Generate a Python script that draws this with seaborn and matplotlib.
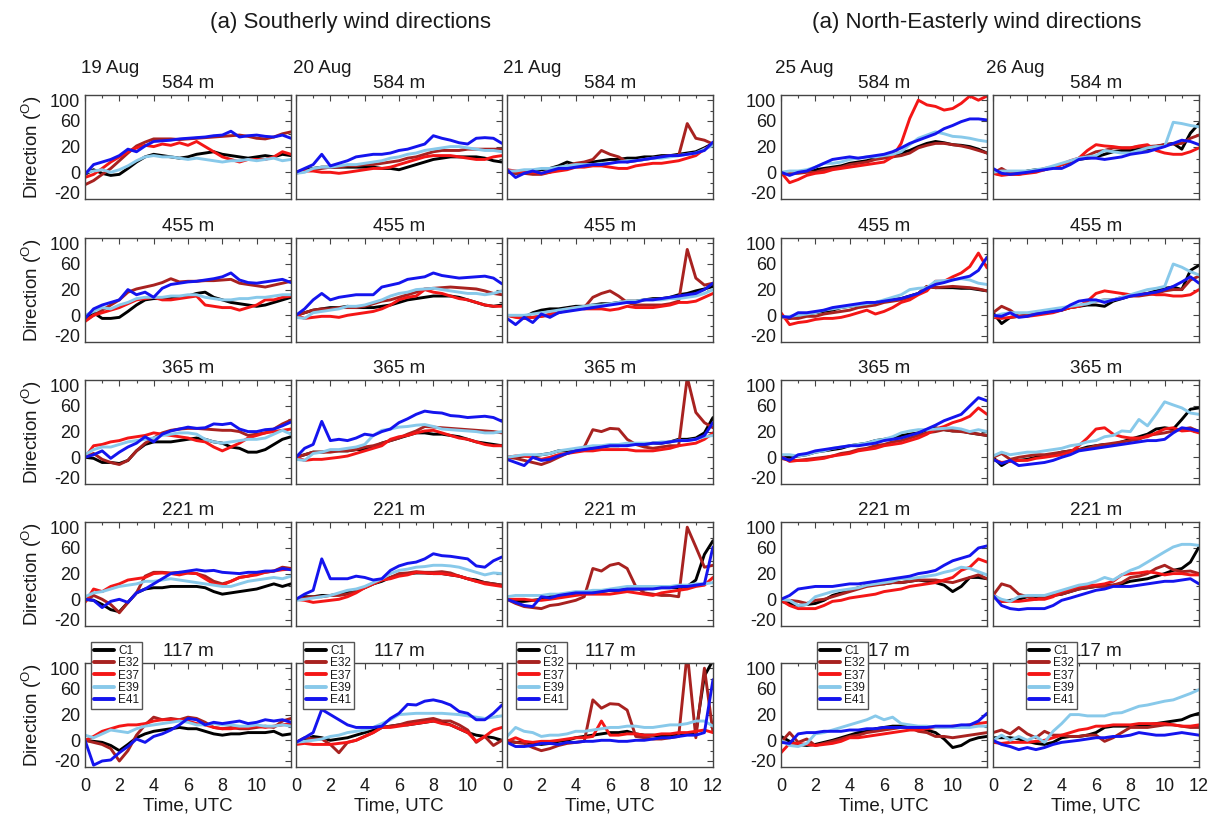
import numpy as np
import pandas as pd
import matplotlib
matplotlib.use("Agg")
import matplotlib.pyplot as plt
from matplotlib.lines import Line2D
from matplotlib.ticker import MultipleLocator
import seaborn as sns

# ---------------- data ----------------
HOURS = [0, 0.5, 1, 1.5, 2, 2.5, 3, 3.5, 4, 4.5, 5, 5.5, 6, 6.5, 7, 7.5, 8, 8.5,
         9, 9.5, 10, 10.5, 11, 11.5, 12]
SERIES = ["C1", "E32", "E37", "E39", "E41"]
COLORS = ["#000000", "#A82220", "#F41616", "#88C9EA", "#1414EE"]
DAYS = ["19 Aug", "20 Aug", "21 Aug", "25 Aug", "26 Aug"]
HEIGHTS = ["584 m", "455 m", "365 m", "221 m", "117 m"]
YTICKS = [-20, 0, 20, 60, 100]
YTICK_LABELS = ["-20", "0", "20", "60", "100"]
XTICKS = [0, 2, 4, 6, 8, 10, 12]

# 19 Aug
A19_584 = dict(
    C1=[-2, 2, -1, -3, -2, 3, 8, 12, 14, 13, 12, 11, 12, 14, 15, 16, 14, 13, 12, 11, 12, 13, 12, 14, 13],
    E32=[-12, -8, -2, 3, 9, 15, 21, 27, 32, 32, 32, 31, 32, 33, 34, 35, 36, 37, 38, 36, 33, 32, 35, 40, 43],
    E37=[-5, -2, 3, 8, 12, 16, 19, 22, 20, 24, 22, 26, 22, 28, 20, 16, 12, 10, 8, 10, 10, 10, 12, 16, 14],
    E39=[0, 1, 2, 0, 2, 5, 9, 12, 13, 12, 12, 11, 10, 11, 10, 9, 8, 9, 9, 10, 9, 10, 11, 9, 10],
    E41=[-2, 6, 8, 10, 13, 18, 16, 21, 28, 29, 30, 32, 33, 34, 35, 37, 38, 44, 35, 37, 38, 36, 35, 38, 33])
A19_455 = dict(
    C1=[-4, 2, -3, -3, -2, 3, 8, 12, 13, 13, 13, 14, 15, 17, 18, 14, 12, 10, 9, 8, 7, 8, 10, 12, 14],
    E32=[-5, 0, 4, 8, 12, 18, 21, 24, 27, 31, 37, 32, 33, 33, 34, 34, 35, 36, 30, 28, 26, 24, 27, 30, 33],
    E37=[-6, 0, 2, 4, 6, 9, 12, 13, 14, 12, 12, 13, 14, 15, 8, 7, 6, 6, 4, 6, 8, 12, 12, 14, 15],
    E39=[0, 3, 6, 5, 8, 10, 13, 14, 14, 14, 15, 15, 16, 16, 14, 13, 12, 12, 13, 13, 14, 14, 15, 16, 16],
    E41=[-3, 5, 8, 10, 12, 20, 16, 18, 14, 22, 28, 30, 32, 33, 35, 37, 40, 46, 35, 31, 30, 32, 34, 36, 31])
A19_365 = dict(
    C1=[0, -1, -5, -5, -6, -3, 5, 10, 12, 12, 12, 13, 14, 15, 14, 12, 11, 8, 7, 4, 4, 6, 10, 14, 16],
    E32=[0, 3, -2, -5, -7, -3, 5, 11, 15, 19, 22, 24, 25, 25, 24, 23, 22, 22, 20, 17, 18, 19, 24, 32, 38],
    E37=[0, 9, 10, 12, 13, 15, 16, 17, 19, 18, 17, 16, 15, 13, 12, 8, 5, 8, 11, 15, 17, 19, 20, 22, 24],
    E39=[2, 6, 8, 8, 10, 12, 13, 14, 15, 17, 18, 19, 19, 18, 14, 12, 11, 12, 13, 14, 14, 15, 18, 22, 18],
    E41=[0, 2, 5, -1, 4, 8, 11, 16, 12, 18, 21, 24, 27, 25, 26, 32, 31, 33, 24, 20, 20, 23, 24, 29, 35])
A19_221 = dict(
    C1=[0, -1, -5, -10, -12, -3, 5, 8, 9, 9, 10, 10, 10, 10, 9, 6, 4, 5, 6, 7, 8, 10, 12, 10, 12],
    E32=[-2, 3, 0, -5, -13, -3, 5, 18, 22, 22, 21, 22, 21, 20, 18, 14, 12, 14, 17, 18, 20, 22, 24, 30, 28],
    E37=[-3, 8, 6, 10, 12, 15, 16, 17, 20, 21, 20, 19, 21, 20, 16, 12, 11, 14, 17, 18, 19, 22, 24, 26, 27],
    E39=[2, 5, 6, 8, 10, 11, 12, 14, 14, 15, 16, 15, 14, 13, 12, 11, 10, 10, 12, 14, 15, 16, 17, 16, 18],
    E41=[0, -1, -8, -2, 0, -3, 5, 8, 12, 16, 20, 22, 24, 26, 24, 25, 22, 21, 20, 22, 22, 24, 24, 28, 26])
A19_117 = dict(
    C1=[0, -1, -2, -5, -10, -4, 2, 5, 7, 8, 9, 10, 9, 9, 7, 5, 4, 5, 5, 6, 6, 6, 7, 4, 5],
    E32=[0, -2, -4, -8, -20, -10, 4, 12, 18, 16, 17, 16, 18, 17, 14, 10, 9, 10, 9, 9, 10, 11, 10, 15, 17],
    E37=[0, 3, 7, 9, 11, 12, 12, 13, 15, 16, 16, 16, 15, 13, 12, 10, 9, 9, 10, 10, 11, 10, 11, 12, 13],
    E39=[4, 2, 5, 8, 7, 6, 9, 11, 12, 13, 14, 15, 14, 12, 12, 13, 12, 12, 11, 11, 12, 11, 11, 12, 11],
    E41=[0, -24, -20, -19, -12, -6, 1, -2, 3, 5, 8, 12, 17, 16, 12, 14, 13, 14, 15, 13, 14, 16, 15, 16, 14])

# 20 Aug
A20_584 = dict(
    C1=[0, 2, 3, 4, 4, 4, 4, 4, 4, 4, 3, 3, 2, 4, 6, 8, 10, 11, 12, 12, 12, 12, 11, 9, 8],
    E32=[0, 1, 2, 3, 4, 4, 5, 5, 6, 6, 7, 8, 9, 11, 12, 14, 16, 17, 17, 17, 18, 18, 18, 18, 18],
    E37=[-1, 1, 1, 0, 0, -1, 0, 1, 2, 3, 3, 4, 6, 8, 10, 12, 13, 13, 13, 12, 11, 10, 10, 12, 13],
    E39=[-1, 0, 3, 4, 4, 5, 6, 6, 7, 8, 9, 11, 12, 14, 15, 17, 18, 19, 20, 20, 19, 18, 17, 17, 16],
    E41=[0, 3, 6, 14, 5, 7, 9, 12, 13, 14, 14, 15, 17, 18, 20, 24, 37, 33, 30, 26, 24, 33, 34, 33, 25])
A20_455 = dict(
    C1=[0, 2, 4, 5, 6, 6, 7, 6, 6, 6, 7, 8, 10, 12, 13, 14, 15, 15, 15, 14, 12, 10, 8, 7, 8],
    E32=[0, 2, 4, 5, 5, 6, 6, 6, 7, 9, 11, 12, 14, 16, 18, 21, 22, 23, 24, 23, 22, 21, 19, 17, 16],
    E37=[0, -3, -2, -1, -1, -2, 0, 1, 2, 3, 5, 8, 12, 14, 15, 20, 18, 17, 15, 13, 12, 10, 8, 7, 7],
    E39=[-2, -3, 2, 3, 4, 5, 7, 7, 8, 10, 12, 15, 17, 18, 20, 21, 22, 20, 19, 18, 17, 17, 16, 17, 19],
    E41=[0, 5, 12, 17, 12, 14, 15, 16, 16, 16, 24, 27, 30, 36, 38, 40, 46, 42, 40, 38, 39, 40, 41, 38, 29])
A20_365 = dict(
    C1=[0, 2, 4, 4, 5, 5, 5, 6, 6, 8, 11, 13, 15, 17, 19, 19, 18, 18, 17, 16, 14, 12, 11, 10, 9],
    E32=[0, 2, 4, 4, 4, 5, 5, 6, 8, 9, 11, 13, 15, 18, 21, 28, 27, 26, 25, 24, 23, 22, 21, 20, 19],
    E37=[0, -3, -2, -2, -1, 0, 1, 3, 5, 7, 9, 14, 16, 17, 19, 21, 22, 19, 17, 15, 14, 12, 10, 9, 9],
    E39=[-2, -3, 3, 4, 6, 6, 7, 8, 10, 17, 22, 24, 27, 28, 30, 31, 28, 24, 23, 22, 21, 20, 19, 19, 20],
    E41=[0, 7, 10, 36, 13, 14, 13, 15, 18, 17, 20, 24, 34, 40, 47, 52, 50, 49, 45, 44, 42, 43, 44, 42, 36])
A20_221 = dict(
    C1=[0, 2, 2, 3, 3, 4, 5, 7, 9, 12, 14, 17, 19, 20, 21, 21, 20, 20, 19, 18, 16, 15, 13, 12, 11],
    E32=[0, 1, 2, 2, 3, 3, 4, 6, 9, 12, 15, 17, 20, 21, 23, 22, 22, 23, 21, 18, 16, 14, 13, 12, 11],
    E37=[0, -1, -3, -2, -1, 0, 2, 5, 9, 12, 15, 16, 18, 19, 22, 21, 20, 20, 19, 18, 16, 14, 12, 11, 10],
    E39=[-1, 0, 1, 2, 3, 5, 7, 8, 10, 13, 16, 20, 25, 27, 30, 31, 33, 33, 32, 30, 26, 22, 19, 21, 20],
    E41=[0, 4, 7, 43, 16, 16, 16, 18, 17, 15, 16, 25, 32, 36, 38, 43, 51, 48, 47, 45, 43, 32, 30, 40, 46])
A20_117 = dict(
    C1=[-2, 0, 3, 2, 0, 1, 2, 4, 6, 8, 10, 11, 12, 12, 13, 14, 15, 14, 12, 9, 6, 4, 3, 2, 0],
    E32=[-2, 2, 1, 1, -4, -12, -2, 0, 3, 6, 10, 11, 12, 14, 15, 16, 17, 15, 15, 12, 8, -2, 3, -5, 0],
    E37=[-4, -3, -4, -4, -4, -3, -2, 0, 3, 6, 10, 10, 11, 12, 13, 14, 15, 13, 12, 9, 6, -1, 3, 8, 10],
    E39=[-2, -1, 0, 1, 3, 4, 6, 7, 8, 10, 13, 16, 20, 21, 22, 22, 22, 22, 21, 20, 19, 18, 17, 18, 19],
    E41=[-2, 2, 6, 28, 20, 16, 12, 10, 10, 10, 11, 17, 22, 36, 35, 41, 43, 40, 35, 25, 22, 16, 16, 22, 35])

# 21 Aug
A21_584 = dict(
    C1=[2, -1, 0, 1, 2, 3, 5, 8, 6, 7, 8, 9, 10, 10, 11, 11, 12, 12, 13, 13, 14, 15, 16, 19, 25],
    E32=[0, -1, -1, -2, -2, 0, 3, 5, 7, 8, 10, 17, 14, 12, 8, 9, 10, 11, 12, 13, 13, 56, 33, 30, 24],
    E37=[2, 1, 0, 0, -1, 0, 1, 2, 4, 4, 5, 5, 4, 3, 3, 5, 6, 7, 7, 8, 9, 11, 13, 18, 24],
    E39=[1, 1, 2, 2, 3, 3, 4, 5, 6, 6, 6, 7, 7, 8, 9, 9, 10, 11, 11, 12, 13, 14, 15, 18, 22],
    E41=[2, -5, -1, 1, -1, 1, 3, 3, 4, 5, 6, 6, 7, 8, 8, 9, 10, 11, 12, 13, 13, 14, 15, 17, 27])
A21_455 = dict(
    C1=[0, -1, -2, 2, 4, 5, 5, 6, 7, 7, 8, 9, 9, 10, 11, 11, 12, 13, 13, 14, 16, 17, 19, 21, 25],
    E32=[0, -1, -3, -2, -1, 0, 2, 4, 6, 6, 14, 17, 19, 15, 10, 8, 8, 8, 8, 9, 11, 88, 38, 27, 30],
    E37=[0, -2, -3, -2, -1, 1, 3, 5, 6, 5, 5, 5, 4, 5, 7, 6, 6, 6, 7, 8, 10, 10, 11, 14, 17],
    E39=[0, 0, 0, 1, 2, 3, 4, 5, 6, 7, 8, 8, 9, 10, 11, 11, 12, 12, 12, 13, 13, 14, 15, 17, 20],
    E41=[-3, -9, -2, -7, 1, -2, 2, 3, 4, 5, 6, 7, 8, 9, 10, 10, 12, 12, 13, 14, 15, 16, 17, 20, 30])
A21_365 = dict(
    C1=[0, 0, 1, 1, 2, 3, 5, 5, 6, 7, 7, 8, 9, 9, 10, 10, 10, 11, 11, 12, 14, 14, 15, 19, 42],
    E32=[0, -1, -3, -5, -7, -4, 0, 3, 5, 8, 23, 20, 25, 24, 14, 10, 8, 7, 8, 9, 9, 115, 50, 34, 26],
    E37=[0, 1, 1, 0, -2, 0, 2, 3, 4, 5, 5, 6, 6, 6, 6, 5, 5, 5, 6, 7, 9, 10, 11, 14, 19],
    E39=[0, 1, 2, 2, 2, 3, 5, 6, 7, 8, 9, 9, 10, 10, 11, 11, 11, 11, 12, 12, 13, 13, 14, 16, 17],
    E41=[-2, -5, -8, 0, -3, -2, 1, 3, 5, 6, 7, 8, 9, 9, 9, 10, 10, 11, 11, 12, 13, 13, 14, 17, 34])
A21_221 = dict(
    C1=[0, -2, -2, -1, 0, 2, 3, 4, 4, 5, 6, 6, 7, 7, 8, 8, 8, 9, 9, 9, 9, 10, 15, 50, 74],
    E32=[0, -4, -7, -8, -9, -6, -5, -3, -1, 2, 28, 24, 33, 36, 28, 10, 5, 4, 3, 3, 2, 100, 62, 30, 33],
    E37=[0, 0, 0, -1, -1, 0, 1, 2, 3, 4, 4, 4, 4, 5, 6, 5, 4, 3, 5, 6, 7, 8, 10, 11, 17],
    E39=[2, 3, 3, 3, 3, 4, 4, 5, 6, 6, 7, 7, 8, 9, 10, 10, 10, 10, 10, 10, 11, 11, 12, 12, 13],
    E41=[0, -3, -6, -7, 2, 1, 3, 4, 5, 5, 5, 6, 7, 7, 8, 8, 8, 8, 9, 9, 10, 10, 11, 12, 62])
A21_117 = dict(
    C1=[-1, -2, -2, -3, -4, -3, -1, 0, 2, 3, 4, 5, 6, 6, 7, 5, 4, 4, 3, 4, 4, 5, 6, 85, 115],
    E32=[0, -2, -3, -7, -10, -8, -5, -3, -2, -1, 43, 30, 37, 36, 27, 3, 2, 1, 1, 2, 3, 130, 2, 100, 6],
    E37=[-1, 2, -1, -2, -1, -1, 0, 1, 2, 2, 3, 15, 4, 4, 5, 5, 4, 4, 5, 5, 6, 6, 7, 8, 6],
    E39=[3, 10, 7, 6, 3, 4, 4, 5, 7, 7, 8, 9, 10, 10, 11, 11, 10, 10, 11, 12, 12, 13, 15, 15, 11],
    E41=[-2, -6, -6, -5, -3, -3, -4, -2, -2, -1, -1, 0, 0, -1, -1, 0, 0, 1, 2, 2, 3, 4, 4, 6, 78])

# 25 Aug
A25_584 = dict(
    C1=[-1, -1, 0, 1, 2, 3, 4, 5, 7, 8, 9, 11, 12, 13, 15, 17, 20, 25, 28, 26, 23, 22, 20, 18, 15],
    E32=[-2, -1, -1, 0, 0, 2, 3, 4, 6, 7, 8, 10, 11, 12, 13, 15, 19, 22, 25, 25, 23, 21, 19, 17, 15],
    E37=[0, -10, -7, -3, -1, 0, 2, 3, 4, 5, 6, 7, 8, 12, 25, 65, 100, 91, 88, 81, 84, 94, 108, 100, 108],
    E39=[0, 1, 1, 2, 4, 7, 7, 8, 10, 11, 12, 12, 13, 14, 16, 23, 33, 38, 43, 40, 36, 35, 33, 30, 28],
    E41=[0, -3, 0, 1, 4, 7, 10, 11, 12, 11, 12, 13, 14, 16, 19, 25, 30, 35, 40, 48, 53, 59, 64, 64, 62])
A25_455 = dict(
    C1=[-1, -3, 0, 1, 2, 3, 4, 6, 7, 8, 8, 10, 11, 12, 13, 15, 17, 25, 23, 23, 23, 22, 22, 20, 19],
    E32=[-2, -3, -3, -1, -1, 1, 2, 3, 4, 6, 7, 8, 10, 11, 12, 14, 17, 25, 23, 24, 25, 24, 23, 21, 19],
    E37=[2, -9, -7, -6, -4, -3, -3, -2, 0, 2, 4, 1, 3, 6, 10, 12, 16, 19, 33, 33, 40, 46, 56, 81, 54],
    E39=[-2, -1, 0, 1, 2, 4, 5, 6, 7, 8, 9, 10, 12, 14, 16, 20, 22, 23, 33, 34, 35, 37, 35, 30, 28],
    E41=[-1, -2, 2, 2, 3, 4, 6, 7, 8, 9, 10, 10, 11, 12, 13, 15, 17, 22, 28, 31, 35, 38, 41, 50, 73])
A25_365 = dict(
    C1=[0, 0, 1, 2, 4, 5, 6, 7, 9, 10, 11, 13, 14, 15, 17, 18, 19, 23, 26, 23, 21, 21, 19, 18, 17],
    E32=[-1, -3, -3, -2, -1, 0, 1, 3, 4, 6, 7, 9, 10, 12, 13, 15, 17, 19, 20, 23, 21, 20, 19, 18, 17],
    E37=[1, -4, -3, -3, -2, -1, 1, 2, 3, 5, 6, 7, 9, 10, 11, 13, 15, 18, 24, 28, 34, 38, 44, 57, 47],
    E39=[2, 2, 1, 2, 4, 5, 7, 8, 9, 10, 11, 13, 14, 16, 19, 21, 23, 23, 24, 25, 26, 24, 20, 23, 20],
    E41=[0, -3, 2, 3, 5, 6, 7, 8, 9, 9, 10, 11, 13, 14, 15, 17, 19, 24, 30, 37, 42, 47, 60, 76, 70])
A25_221 = dict(
    C1=[-2, -4, -6, -5, -4, -1, 3, 5, 7, 9, 11, 12, 12, 13, 13, 14, 15, 14, 13, 11, 6, 10, 17, 17, 16],
    E32=[-1, -1, -2, -4, -1, 0, 2, 4, 6, 8, 10, 11, 12, 13, 13, 14, 15, 15, 15, 14, 13, 15, 17, 19, 16],
    E37=[-1, -6, -9, -9, -9, -6, -2, -1, 1, 2, 3, 4, 6, 7, 8, 10, 11, 12, 13, 15, 17, 25, 30, 43, 38],
    E39=[0, -1, -6, -5, 2, 4, 6, 7, 8, 9, 11, 12, 13, 14, 16, 16, 17, 18, 19, 22, 25, 30, 28, 23, 19],
    E41=[0, 3, 8, 9, 10, 10, 10, 11, 12, 12, 13, 14, 15, 16, 17, 18, 20, 22, 25, 33, 40, 44, 48, 60, 64])
A25_117 = dict(
    C1=[3, -1, -4, -5, -4, -2, 0, 2, 4, 6, 7, 9, 10, 11, 11, 11, 10, 8, 6, 1, -7, -5, 0, 2, 3],
    E32=[-2, 6, -2, 1, -5, -3, -1, 1, 3, 4, 6, 7, 8, 9, 10, 10, 7, 6, 3, 3, 2, 3, 4, 5, 6],
    E37=[-12, -3, -3, -4, -5, -4, -3, -1, 2, 2, 3, 4, 5, 6, 7, 8, 8, 9, 10, 10, 11, 11, 12, 13, 14],
    E39=[0, -5, -6, -3, 5, 6, 8, 10, 12, 14, 16, 19, 16, 18, 13, 12, 11, 11, 10, 10, 10, 10, 10, 11, 11],
    E41=[-2, -3, 5, 6, 6, 7, 7, 7, 8, 8, 9, 9, 10, 10, 10, 10, 10, 10, 11, 11, 11, 12, 12, 15, 22])

# 26 Aug
A26_584 = dict(
    C1=[-1, -2, -2, -1, 1, 2, 2, 4, 6, 8, 10, 11, 12, 14, 16, 17, 17, 18, 18, 20, 23, 25, 18, 41, 56],
    E32=[-1, 3, -1, -2, 0, 1, 3, 4, 6, 8, 11, 13, 16, 17, 19, 19, 19, 20, 20, 21, 23, 24, 25, 33, 38],
    E37=[-1, -3, -2, -2, -1, 0, 2, 4, 6, 9, 11, 17, 23, 21, 20, 19, 19, 21, 23, 17, 15, 14, 14, 16, 19],
    E39=[0, 1, 1, 1, 1, 2, 3, 5, 7, 9, 11, 12, 13, 17, 16, 15, 15, 17, 19, 20, 20, 58, 56, 53, 51],
    E41=[3, -1, -2, -1, 0, 1, 2, 3, 3, 6, 10, 11, 11, 10, 11, 12, 14, 15, 16, 18, 20, 25, 30, 28, 23])
A26_455 = dict(
    C1=[2, -8, -2, -1, 0, 1, 2, 3, 4, 6, 7, 8, 8, 7, 11, 13, 15, 16, 17, 19, 22, 24, 20, 50, 58],
    E32=[2, 7, 4, -1, 0, 1, 2, 3, 5, 6, 7, 9, 11, 12, 12, 14, 15, 15, 16, 17, 19, 20, 20, 35, 41],
    E37=[-2, -3, -2, -1, -1, 0, 1, 2, 4, 6, 7, 11, 17, 19, 18, 17, 16, 16, 17, 16, 16, 15, 15, 16, 20],
    E39=[-1, 1, 2, 2, 2, 3, 4, 5, 6, 7, 8, 9, 11, 12, 12, 14, 16, 18, 20, 22, 25, 60, 55, 48, 43],
    E41=[0, -1, 2, -2, -1, 1, 2, 3, 4, 8, 11, 12, 12, 10, 12, 13, 15, 16, 17, 18, 20, 25, 32, 40, 30])
A26_365 = dict(
    C1=[0, -8, -3, -3, -2, 0, 1, 2, 4, 5, 6, 8, 9, 10, 10, 12, 14, 16, 18, 24, 26, 24, 39, 55, 57],
    E32=[0, 3, -2, 0, 1, 2, 2, 3, 4, 5, 6, 7, 9, 10, 11, 12, 13, 14, 17, 18, 19, 21, 24, 26, 20],
    E37=[-2, -5, -4, -3, -3, -1, 0, 1, 2, 4, 9, 15, 24, 26, 18, 16, 15, 15, 16, 19, 24, 26, 21, 22, 19],
    E39=[1, 4, 2, 3, 4, 4, 5, 6, 7, 9, 10, 12, 13, 16, 17, 21, 20, 39, 29, 47, 68, 62, 57, 49, 47],
    E41=[-2, -6, -3, -8, -7, -6, -5, -3, 0, 2, 5, 6, 7, 8, 9, 10, 11, 12, 13, 13, 14, 19, 26, 24, 21])
A26_221 = dict(
    C1=[2, -2, -1, 0, 2, 1, 2, 3, 4, 6, 8, 9, 10, 11, 11, 12, 14, 15, 16, 18, 20, 25, 28, 38, 62],
    E32=[3, 12, 10, 4, 2, 0, 2, 3, 4, 6, 8, 9, 10, 10, 11, 13, 17, 18, 20, 28, 33, 26, 23, 24, 20],
    E37=[4, -2, -2, -2, -1, 0, 0, 2, 6, 8, 10, 11, 11, 12, 14, 19, 20, 21, 23, 21, 19, 20, 20, 19, 19],
    E39=[3, 0, -2, 2, 3, 3, 3, 5, 7, 9, 11, 12, 14, 17, 15, 19, 25, 30, 38, 46, 54, 62, 67, 67, 65],
    E41=[3, -6, -9, -10, -9, -9, -9, -6, -1, 1, 3, 5, 7, 8, 10, 10, 10, 11, 12, 13, 14, 14, 15, 16, 12])
A26_117 = dict(
    C1=[2, 2, 2, 1, -1, -3, -4, -2, 2, 3, 3, 4, 6, 10, 11, 11, 11, 12, 12, 13, 14, 15, 16, 19, 22],
    E32=[6, 8, 5, 10, 5, 2, 7, 4, 4, 3, 3, 4, 4, -1, 2, 6, 10, 10, 10, 11, 12, 12, 11, 10, 10],
    E37=[-2, -3, -2, -2, -2, -1, 0, 2, 4, 6, 8, 9, 11, 11, 12, 12, 12, 13, 13, 13, 13, 12, 11, 11, 12],
    E39=[0, 4, 0, 3, 0, 3, -2, 7, 13, 20, 20, 19, 19, 19, 22, 23, 28, 33, 35, 38, 41, 43, 48, 53, 59],
    E41=[0, -4, -6, -9, -7, -9, -7, -4, -2, -1, 0, 1, 2, 2, 3, 3, 4, 6, 5, 4, 4, 5, 6, 5, 4])

PANELS = [
    [A19_584, A19_455, A19_365, A19_221, A19_117],
    [A20_584, A20_455, A20_365, A20_221, A20_117],
    [A21_584, A21_455, A21_365, A21_221, A21_117],
    [A25_584, A25_455, A25_365, A25_221, A25_117],
    [A26_584, A26_455, A26_365, A26_221, A26_117],
]

# ---------------- style ----------------
sns.set_style("white")
TXT = "#1a1a1a"
plt.rcParams["font.family"] = ["Liberation Sans", "DejaVu Sans"]
plt.rcParams["mathtext.fontset"] = "custom"
plt.rcParams["mathtext.rm"] = "Liberation Sans"
plt.rcParams["mathtext.it"] = "Liberation Sans:italic"
plt.rcParams["mathtext.bf"] = "Liberation Sans:bold"
plt.rcParams["text.color"] = TXT
plt.rcParams["axes.labelcolor"] = TXT
plt.rcParams["xtick.color"] = "#444444"
plt.rcParams["ytick.color"] = "#444444"
plt.rcParams["xtick.labelcolor"] = TXT
plt.rcParams["ytick.labelcolor"] = TXT

# y axis: piecewise-linear display scale (labels -20,0,20,60,100)
Y_KNOTS = [-200, -20, 0, 20, 60, 100, 300]
U_KNOTS = [-180.3, 6.0, 26.7, 52.4, 78.0, 98.8, 202.8]


def fwd(y):
    return np.interp(y, Y_KNOTS, U_KNOTS)


def inv(u):
    return np.interp(u, U_KNOTS, Y_KNOTS)


YMIN, YMAX = -25.8, 110.0

W, H = 1217, 818
fig = plt.figure(figsize=(W / 100, H / 100), dpi=100)
fig.patch.set_facecolor("white")

COL_LEFT = [85, 296, 507, 781, 993]
ROW_TOP = [95, 238, 380, 522, 663]
PW, PH = 206, 104
DATE_X = [81, 293, 503, 775, 986]
LEG_X = [0.03, 0.035, 0.045, 0.175, 0.16]

palette = dict(zip(SERIES, COLORS))

for c in range(5):
    for r in range(5):
        L, T = COL_LEFT[c], ROW_TOP[r]
        ax = fig.add_axes([L / W, 1 - (T + PH) / H, PW / W, PH / H])
        ax.set_yscale("function", functions=(fwd, inv))
        panel = PANELS[c][r]
        recs = []
        for s in SERIES:
            for t, v in zip(HOURS, panel[s]):
                recs.append((t, v, s))
        df = pd.DataFrame(recs, columns=["time", "dir", "series"])
        sns.lineplot(data=df, x="time", y="dir", hue="series", hue_order=SERIES,
                     palette=palette, estimator=None, linewidth=2.1,
                     legend=False, ax=ax)
        ax.set_xlim(0, 12)
        ax.set_ylim(YMIN, YMAX)
        ax.set_yticks(YTICKS)
        ax.set_yticks([-10, 10, 40, 80], minor=True)
        ax.xaxis.set_minor_locator(MultipleLocator(1))
        ax.tick_params(which="both", direction="in", top=True, right=True,
                       width=0.8)
        ax.tick_params(which="major", length=4)
        ax.tick_params(which="minor", length=2.5)
        ax.tick_params(axis="y", labelsize=13, pad=3.5)
        ax.tick_params(axis="x", labelsize=13, pad=8)
        for sp in ax.spines.values():
            sp.set_color("#444444")
            sp.set_linewidth(1.0)

        if c in (0, 3):
            ax.set_yticklabels(YTICK_LABELS)
        else:
            ax.tick_params(axis="y", labelleft=False)
        if c == 0:
            ax.set_ylabel("Direction ($^{\\rm O}$)", fontsize=13.5, labelpad=4)
        else:
            ax.set_ylabel("")

        if r == 4:
            if c in (2, 4):
                xl = ["0", "2", "4", "6", "8", "10", "12"]
            else:
                xl = ["0", "2", "4", "6", "8", "10", ""]
            ax.set_xticks(XTICKS)
            ax.set_xticklabels(xl)
            ax.set_xlabel("Time, UTC", fontsize=13.5, labelpad=2)
            handles = [Line2D([], [], color=col, lw=2.8) for col in COLORS]
            leg = ax.legend(handles, SERIES, loc="upper left",
                            bbox_to_anchor=(LEG_X[c], 1.2), frameon=True,
                            fancybox=False, edgecolor="#555555", framealpha=1,
                            fontsize=8.5, handlelength=1.7, handletextpad=0.35,
                            labelspacing=0.02, borderpad=0.25, borderaxespad=0)
            leg.get_frame().set_linewidth(1.0)
        else:
            ax.set_xticks(XTICKS)
            ax.tick_params(axis="x", labelbottom=False)
            ax.set_xlabel("")

        ax.set_title(HEIGHTS[r], fontsize=13.5, pad=5, color=TXT)

for c in range(5):
    fig.text(DATE_X[c] / W, 1 - 73 / H, DAYS[c], ha="left", va="baseline",
             fontsize=13.5, color=TXT)

fig.text(350 / W, 1 - 28 / H, "(a) Southerly wind directions", ha="center",
         va="baseline", fontsize=16, color=TXT)
fig.text(977 / W, 1 - 28 / H, "(a) North-Easterly wind directions",
         ha="center", va="baseline", fontsize=16, color=TXT)

fig.savefig("out.png", dpi=100, facecolor="white")
